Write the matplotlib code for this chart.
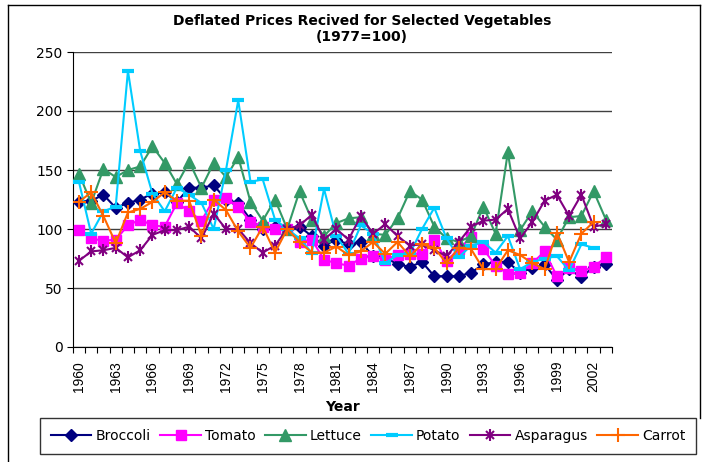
import numpy as np
import matplotlib
matplotlib.use("Agg")
import matplotlib.pyplot as plt
from matplotlib.lines import Line2D
from matplotlib.legend_handler import HandlerTuple

plt.rcParams['font.family'] = ['DejaVu Sans']

years = list(range(1960, 2004))
tick_years = list(range(1960, 2003, 3))

broccoli = [123, 124, 129, 118, 122, 125, 130, 131, 123, 135, 135, 137, 125, 122, 108,
            100, 102, 100, 102, 94, 86, 91, 87, 89, 77, 76, 70, 68, 72, 60,
            60, 60, 63, 70, 72, 72, 63, 67, 70, 57, 66, 59, 68, 70]
tomato = [99, 92, 90, 91, 103, 108, 103, 102, 122, 115, 107, 125, 126, 119, 106,
          102, 100, 100, 89, 91, 74, 71, 69, 75, 77, 74, 78, 79, 79, 91,
          73, 83, 93, 83, 69, 62, 63, 71, 81, 60, 67, 64, 68, 76]
lettuce = [147, 122, 151, 144, 150, 153, 170, 156, 138, 157, 135, 156, 144, 161, 123,
           107, 125, 100, 132, 108, 94, 105, 109, 110, 96, 95, 109, 132, 125, 102,
           92, 89, 94, 119, 96, 165, 99, 115, 102, 91, 110, 111, 132, 108]
potato = [140, 96, 115, 119, 234, 166, 130, 115, 135, 129, 122, 100, 150, 209, 140,
          142, 108, 100, 92, 80, 134, 94, 79, 103, 96, 71, 78, 79, 100, 118,
          92, 76, 86, 89, 80, 94, 66, 72, 75, 77, 65, 87, 84, np.nan]
asparagus = [73, 81, 82, 84, 76, 82, 95, 99, 99, 102, 92, 113, 100, 100, 88,
             80, 86, 100, 103, 112, 91, 100, 91, 111, 96, 104, 94, 86, 87, 82,
             77, 89, 102, 107, 108, 117, 92, 106, 124, 129, 111, 129, 102, 104]
carrot = [123, 131, 111, 88, 114, 117, 123, 131, 124, 124, 94, 125, 116, 98, 84,
          102, 80, 100, 89, 80, 80, 85, 78, 81, 89, 79, 89, 77, 87, 84,
          71, 84, 83, 66, 66, 82, 78, 71, 66, 97, 72, 96, 106, np.nan]

W, H = 705, 462
fig = plt.figure(figsize=(W / 100, H / 100), dpi=100)
ax = fig.add_axes([72.8 / W, 1 - 347 / H, (612 - 72.8) / W, (347 - 52) / H])

x = np.arange(len(years))

c_broc = '#000080'
c_tom = '#FF00FF'
c_let = '#339966'
c_pot = '#00CCFF'
c_asp = '#800080'
c_car = '#FF6600'

lw = 1.5
ax.plot(x, broccoli, color=c_broc, lw=lw, marker='D', ms=6, mec=c_broc, mfc=c_broc, zorder=3)
ax.plot(x, tomato, color=c_tom, lw=lw, marker='s', ms=7, mec=c_tom, mfc=c_tom, zorder=3)
ax.plot(x, lettuce, color=c_let, lw=lw, marker='^', ms=8, mec=c_let, mfc=c_let, zorder=3)
ax.plot(x, potato, color=c_pot, lw=lw, marker='_', ms=9, mew=3, mec=c_pot, zorder=3)
ax.plot(x, asparagus, color=c_asp, lw=lw, marker='x', ms=6, mew=1.5, mec=c_asp, zorder=3)
ax.plot(x, asparagus, color=c_asp, lw=0, marker='|', ms=8, mew=1.5, mec=c_asp, zorder=3)
ax.plot(x, carrot, color=c_car, lw=lw, marker='+', ms=10, mew=1.5, mec=c_car, zorder=3)

ax.set_xlim(-0.5, len(years) - 0.5)
ax.set_ylim(0, 250)
ax.set_yticks(range(0, 251, 50))
ax.yaxis.grid(True, color='#404040', lw=1)
ax.set_axisbelow(True)

ax.set_xticks([years.index(y) for y in tick_years])
ax.set_xticklabels([str(y) for y in tick_years], rotation=90, fontsize=10,
                   family=['Liberation Sans', 'DejaVu Sans'])
ax.set_xticks(np.arange(-0.5, len(years), 1), minor=True)
ax.tick_params(axis='x', which='major', length=0, pad=10)
ax.tick_params(axis='x', which='minor', length=4, direction='out', width=0.8)
ax.tick_params(axis='y', which='major', length=4, direction='out', labelsize=10, width=0.8)

for s in ['top', 'right']:
    ax.spines[s].set_visible(False)
ax.spines['left'].set_color('black')
ax.spines['bottom'].set_color('black')

ax.set_xlabel('Year', fontsize=10, fontweight='bold', labelpad=6)

fig.text(362 / W, 1 - 21 / H, 'Deflated Prices Recived for Selected Vegetables',
         ha='center', va='center', fontsize=10, fontweight='bold')
fig.text(362 / W, 1 - 37 / H, '(1977=100)',
         ha='center', va='center', fontsize=10, fontweight='bold')

# chart border
fig.add_artist(Line2D([8 / W, 8 / W], [0, 1 - 5 / H], color='black', lw=1))
fig.add_artist(Line2D([8 / W, 700 / W], [1 - 5 / H, 1 - 5 / H], color='black', lw=1))
fig.add_artist(Line2D([700 / W, 700 / W], [1 - 5 / H, 1 - 418 / H], color='black', lw=1))

h_b = Line2D([], [], color=c_broc, lw=lw, marker='D', ms=6, mfc=c_broc, mec=c_broc)
h_t = Line2D([], [], color=c_tom, lw=lw, marker='s', ms=7, mfc=c_tom, mec=c_tom)
h_l = Line2D([], [], color=c_let, lw=lw, marker='^', ms=8, mfc=c_let, mec=c_let)
h_p = Line2D([], [], color=c_pot, lw=lw, marker='_', ms=9, mew=3, mec=c_pot)
h_a1 = Line2D([], [], color=c_asp, lw=lw, marker='x', ms=6, mew=1.5, mec=c_asp)
h_a2 = Line2D([], [], color=c_asp, lw=0, marker='|', ms=8, mew=1.5, mec=c_asp)
h_c = Line2D([], [], color=c_car, lw=lw, marker='+', ms=10, mew=1.5, mec=c_car)

leg = fig.legend([h_b, h_t, h_l, h_p, (h_a1, h_a2), h_c],
                 ['Broccoli', 'Tomato', 'Lettuce', 'Potato', 'Asparagus', 'Carrot'],
                 handler_map={tuple: HandlerTuple(ndivide=1)},
                 loc='upper left', bbox_to_anchor=(40 / W, 1 - 418 / H),
                 ncol=6, fontsize=10, frameon=True, fancybox=False,
                 edgecolor='black', handlelength=2.9, handletextpad=0.3,
                 columnspacing=0.7, borderpad=0.8, borderaxespad=0)
leg.get_frame().set_linewidth(1)

fig.savefig('out.png', dpi=100)
